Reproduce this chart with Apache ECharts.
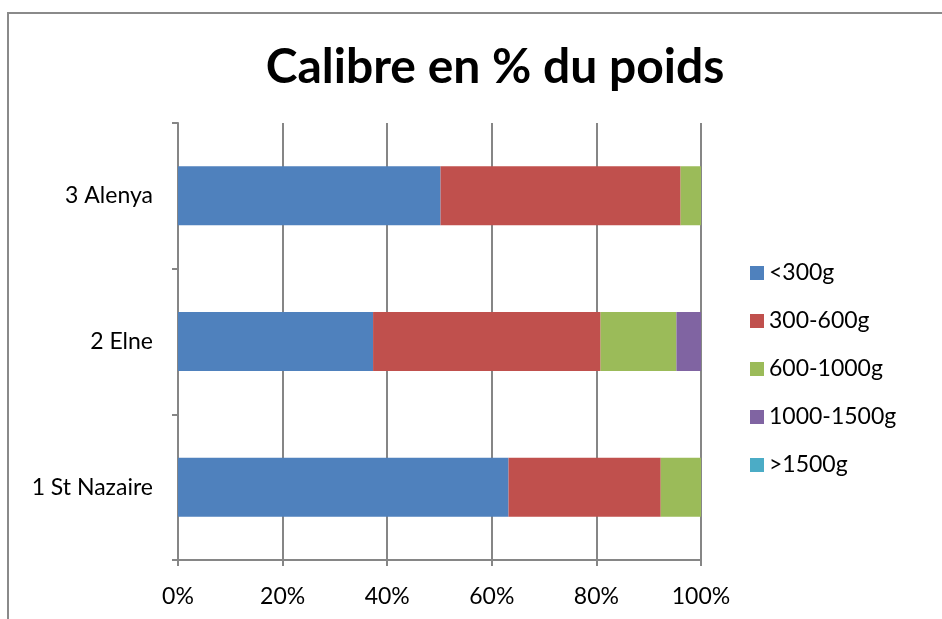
<!DOCTYPE html>
<html lang="fr">
<head>
<meta charset="UTF-8">
<title>Calibre en % du poids</title>
<style>
  html, body { margin: 0; padding: 0; background: #fff; }
  #chart { width: 942px; height: 619px; }
</style>
</head>
<body>
<div id="chart"></div>
<script src="https://cdn.jsdelivr.net/npm/echarts@6/dist/echarts.min.js"></script>
<script>
// data (percent of weight)
var sites = ['1 St Nazaire', '2 Elne', '3 Alenya'];
var seriesNames = ['<300g', '300-600g', '600-1000g', '1000-1500g', '>1500g'];
var under300 = [63.2, 37.3, 50.2];
var from300to600 = [29.1, 43.5, 45.9];
var from600to1000 = [7.7, 14.5, 3.9];
var from1000to1500 = [0, 4.7, 0];
var over1500 = [0, 0, 0];
var colors = ['#4F81BD', '#C0504D', '#9BBB59', '#8064A2', '#4BACC6'];

var font = 'Lato, "Open Sans", sans-serif';
var allValues = [under300, from300to600, from600to1000, from1000to1500, over1500];

function makeSeries(name, values, color) {
    return {
        name: name,
        type: 'bar',
        stack: 'total',
        barWidth: 59,
        itemStyle: { color: color },
        data: values
    };
}

var series = [];
for (var i = 0; i < seriesNames.length; i++) {
    series.push(makeSeries(seriesNames[i], allValues[i], colors[i]));
}

var chart = echarts.init(document.getElementById('chart'));
chart.setOption({
    animation: false,
    color: colors,
    title: {
        text: 'Calibre en % du poids',
        top: 39,
        left: 490,
        textAlign: 'center',
        textStyle: { fontFamily: font, fontSize: 48, fontWeight: 'bold', color: '#000' }
    },
    graphic: [{
        type: 'rect',
        shape: { x: 8, y: 13, width: 1000, height: 700 },
        style: { fill: 'none', stroke: '#8a8a8a', lineWidth: 2 },
        silent: true
    }],
    legend: {
        orient: 'vertical',
        left: 745,
        top: 256,
        itemWidth: 14,
        itemHeight: 14,
        itemGap: 24,
        icon: 'rect',
        textStyle: { fontFamily: font, fontSize: 23, color: '#000', lineHeight: 24 },
        data: seriesNames
    },
    grid: { left: 178, right: 241, top: 123, bottom: 59 },
    xAxis: {
        type: 'value',
        min: 0,
        max: 100,
        interval: 20,
        axisLine: { show: true, lineStyle: { color: '#868686', width: 2 } },
        axisTick: { show: true, length: 6, lineStyle: { color: '#868686', width: 2 } },
        splitLine: { show: true, lineStyle: { color: '#868686', width: 2 } },
        axisLabel: {
            formatter: '{value}%',
            margin: 25,
            fontFamily: font, fontSize: 23, color: '#000'
        }
    },
    yAxis: {
        type: 'category',
        data: sites,
        axisLine: { show: true, lineStyle: { color: '#868686', width: 2 } },
        axisTick: { show: true, length: 6, interval: 0, lineStyle: { color: '#868686', width: 2 } },
        axisLabel: { margin: 25, fontFamily: font, fontSize: 23, color: '#000' }
    },
    series: series
});
</script>
</body>
</html>
